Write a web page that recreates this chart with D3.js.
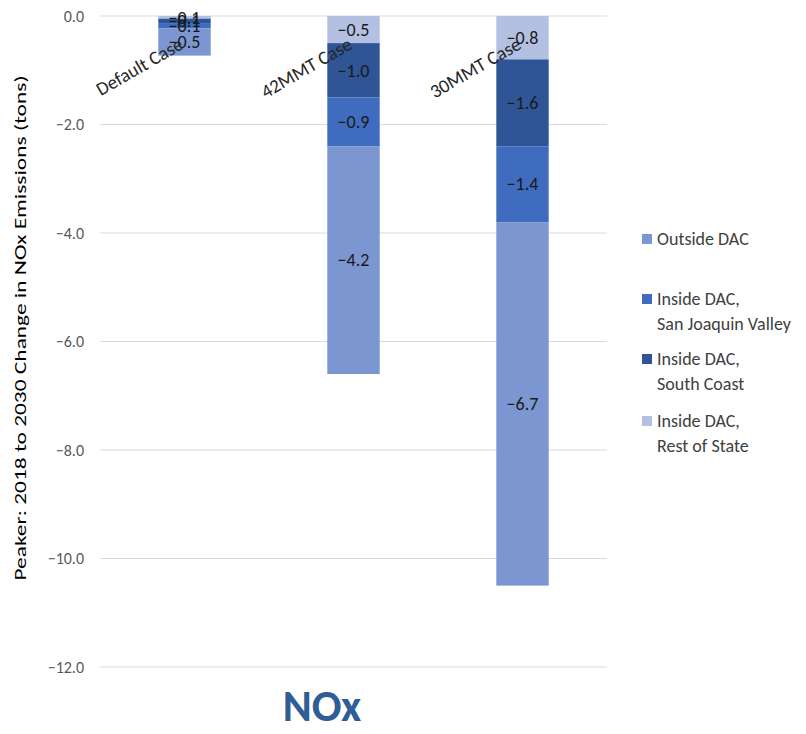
<!DOCTYPE html>
<html>
<head>
<meta charset="utf-8">
<script src="https://cdn.jsdelivr.net/npm/d3@7"></script>
<style>
    body { margin: 0; background: #fff; }
    text { font-family: Calibri, Carlito, "Open Sans", "Noto Sans", sans-serif; }
</style>
</head>
<body>
<svg id="chart" width="806" height="734"></svg>
<script>
// categories along x
const cases = ["Default Case", "42MMT Case", "30MMT Case"];

// series values (tons), one array per stack segment
const restOfState = [-0.05, -0.5, -0.8];
const southCoast = [-0.08, -1.0, -1.6];
const sanJoaquin = [-0.1, -0.9, -1.4];
const outsideDac = [-0.5, -4.2, -6.7];

const yTicks = [0, -2, -4, -6, -8, -10, -12];

// drawn top to bottom in the stack
const series = [
    {key: "rest", label: ["Inside DAC,", "Rest of State"], values: restOfState, color: "#b4c0e2"},
    {key: "sc", label: ["Inside DAC,", "South Coast"], values: southCoast, color: "#2f5597"},
    {key: "sjv", label: ["Inside DAC,", "San Joaquin Valley"], values: sanJoaquin, color: "#3f6cbf"},
    {key: "out", label: ["Outside DAC"], values: outsideDac, color: "#7b96d0"}
];

const margin = {top: 16, left: 100, right: 199};
const svg = d3.select("#chart");
const width = 806 - margin.left - margin.right;

const x = d3.scaleBand()
    .domain(cases)
    .range([margin.left, margin.left + width])
    .paddingInner(0.69)
    .paddingOuter(0.345);

const y = d3.scaleLinear()
    .domain([0, -12])
    .range([16, 667]);

// gridlines
svg.append("g")
    .selectAll("line")
    .data(yTicks)
    .join("line")
    .attr("x1", margin.left)
    .attr("x2", margin.left + width)
    .attr("y1", d => y(d))
    .attr("y2", d => y(d))
    .attr("stroke", "#d9d9d9")
    .attr("stroke-width", 1);

// y axis labels
const yAxis = d3.axisLeft(y).tickValues(yTicks).tickFormat(d3.format(".1f")).tickSize(0).tickPadding(16);
const yg = svg.append("g").attr("transform", `translate(${margin.left},0)`).call(yAxis);
yg.select(".domain").remove();
yg.selectAll("text")
    .attr("font-size", 16)
    .attr("fill", "#595959")
    .style("font-family", 'Calibri, Carlito, "Open Sans", sans-serif');

// stacked bars
const layout = cases.map((c, i) => {
    let acc = 0;
    return series.map(s => {
        const v = s.values[i];
        const seg = {cat: c, key: s.key, color: s.color, value: v, y0: acc, y1: acc + v};
        acc += v;
        return seg;
    });
}).flat();

svg.append("g")
    .selectAll("rect")
    .data(layout)
    .join("rect")
    .attr("x", d => x(d.cat))
    .attr("width", x.bandwidth())
    .attr("y", d => y(d.y0))
    .attr("height", d => y(d.y1) - y(d.y0))
    .attr("fill", d => d.color);

// value labels
const fmt = d3.format(".1f");
svg.append("g")
    .selectAll("text")
    .data(layout)
    .join("text")
    .attr("x", d => x(d.cat) + x.bandwidth() / 2)
    .attr("y", d => y((d.y0 + d.y1) / 2))
    .attr("dy", "0.35em")
    .attr("text-anchor", "middle")
    .attr("font-size", 18)
    .attr("fill", "#1a1a1a")
    .text(d => fmt(d.value));

// category labels, rotated
svg.append("g")
    .selectAll("text")
    .data(cases)
    .join("text")
    .attr("transform", d => `translate(${x(d) + x.bandwidth() / 2},${y(0) + 32}) rotate(-30)`)
    .attr("text-anchor", "end")
    .attr("font-size", 19)
    .attr("fill", "#262626")
    .text(d => d);

// y axis title (stretched along its length like the source)
svg.append("text")
    .attr("transform", "translate(26,328) rotate(-90)")
    .attr("text-anchor", "middle")
    .attr("font-size", 16)
    .attr("textLength", 505)
    .attr("lengthAdjust", "spacingAndGlyphs")
    .attr("fill", "#000")
    .text("Peaker: 2018 to 2030 Change in NOx Emissions (tons)");

// legend
const legendRows = [
    {s: series[3], y: 239},
    {s: series[2], y: 299},
    {s: series[1], y: 359},
    {s: series[0], y: 421}
];
const lg = svg.append("g");
legendRows.forEach(r => {
    lg.append("rect")
        .attr("x", 642)
        .attr("y", r.y - 5)
        .attr("width", 10)
        .attr("height", 10)
        .attr("fill", r.s.color);
    r.s.label.forEach((line, j) => {
        lg.append("text")
            .attr("x", 657)
            .attr("y", r.y + j * 25)
            .attr("dy", "0.35em")
            .attr("font-size", 18)
            .attr("fill", "#404040")
            .text(line);
    });
});

// chart title at the bottom
svg.append("text")
    .attr("x", 322)
    .attr("y", 721)
    .attr("text-anchor", "middle")
    .attr("font-size", 44)
    .attr("font-weight", "bold")
    .attr("fill", "#2f5d96")
    .text("NOx");
</script>
</body>
</html>
